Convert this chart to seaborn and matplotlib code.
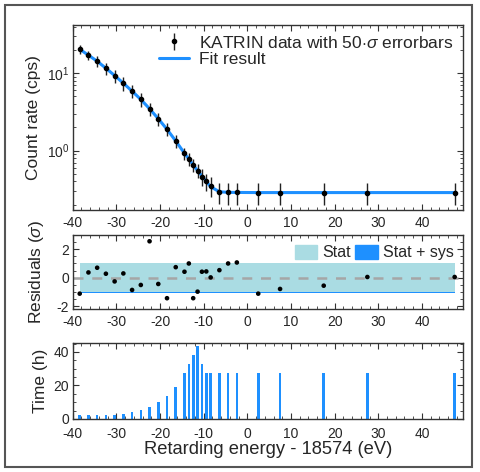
import numpy as np
import pandas as pd
import matplotlib
matplotlib.use('Agg')
import matplotlib.pyplot as plt
import seaborn as sns
from matplotlib.patches import Patch, Rectangle
from matplotlib.ticker import MultipleLocator

# Retarding energy - 18574 (eV)
energy = [-38.4, -36.4, -34.4, -32.4, -30.4, -28.4, -26.4, -24.4, -22.4, -20.4,
          -18.4, -16.4, -14.4, -13.4, -12.4, -11.4, -10.4, -9.4, -8.4, -6.4,
          -4.4, -2.4, 2.5, 7.5, 17.5, 27.5, 47.5]
# count rate (cps)
rate = [20.4, 17.1, 14.3, 11.6, 9.33, 7.43, 5.86, 4.58, 3.47, 2.58,
        1.88, 1.33, 0.92, 0.78, 0.65, 0.55, 0.46, 0.40, 0.35, 0.294,
        0.288, 0.288, 0.286, 0.286, 0.286, 0.286, 0.286]
# 50 sigma error bars (cps)
rate_err = [2.6, 2.4, 2.2, 2.0, 1.8, 1.5, 1.15, 0.90, 0.66, 0.50,
            0.36, 0.25, 0.17, 0.15, 0.13, 0.11, 0.11, 0.10, 0.10, 0.09,
            0.09, 0.09, 0.09, 0.09, 0.09, 0.09, 0.09]
# fit curve
fit_rate = [20.4, 17.1, 14.3, 11.6, 9.33, 7.43, 5.86, 4.58, 3.47, 2.58,
            1.88, 1.33, 0.92, 0.78, 0.65, 0.55, 0.47, 0.40, 0.34, 0.293,
            0.288, 0.287, 0.286, 0.286, 0.286, 0.286, 0.286]
# residuals (sigma)
resid = [-1.12, 0.37, 0.70, 0.28, -0.26, 0.30, -0.86, -0.51, 2.56, -0.44,
         -1.44, 0.74, 0.42, 1.0, -1.44, -0.98, 0.42, 0.44, 0.02, 0.53,
         1.0, 1.07, -1.12, -0.79, -0.56, 0.05, 0.05]
# measurement time (h)
time_h = [2.6, 2.6, 2.6, 2.6, 2.6, 3.0, 4.1, 5.3, 7.1, 9.9,
          13.6, 19.1, 27.2, 32.7, 38.0, 43.3, 32.7, 27.2, 27.2, 27.2,
          27.2, 27.2, 27.2, 27.2, 27.2, 27.2, 27.2]

stat_band = 1.0
sys_band = 1.06

df = pd.DataFrame({'energy': energy, 'rate': rate, 'err': rate_err,
                   'fit': fit_rate, 'resid': resid, 'time': time_h})

sns.set_style('ticks')
plt.rcParams['font.family'] = ['Liberation Sans', 'DejaVu Sans']
plt.rcParams['mathtext.fontset'] = 'custom'
plt.rcParams['mathtext.rm'] = 'Liberation Sans'
plt.rcParams['mathtext.it'] = 'Liberation Sans:italic'
plt.rcParams['axes.unicode_minus'] = False
plt.rcParams['xtick.direction'] = 'in'
plt.rcParams['ytick.direction'] = 'in'

blue = '#1e90ff'
light = '#aadce3'

fig = plt.figure(figsize=(4.8, 4.72), dpi=100)
left, width = 0.1515, 0.813
ax1 = fig.add_axes([left, 0.555, width, 0.392])
ax2 = fig.add_axes([left, 0.3453, width, 0.1568])
ax3 = fig.add_axes([left, 0.1123, width, 0.1617])

# --- top: count rate ---
sns.lineplot(data=df, x='energy', y='fit', ax=ax1, color=blue, lw=2.2,
             label='Fit result', zorder=2)
ax1.errorbar(df['energy'], df['rate'], yerr=df['err'], fmt='o', color='black',
             ms=3.0, elinewidth=1.0, ecolor='#222222', capsize=0, zorder=3,
             label=r'KATRIN data with 50$\cdot\sigma$ errorbars')
ax1.set_yscale('log')
ax1.set_ylim(0.17, 42)
ax1.set_ylabel('Count rate (cps)', fontsize=12.5, labelpad=4)
h, l = ax1.get_legend_handles_labels()
ax1.legend(h[::-1], l[::-1], loc='upper right', frameon=False, fontsize=12.5,
           handlelength=1.7, borderaxespad=0.15, labelspacing=0.05,
           handletextpad=0.6)

# --- middle: residuals ---
ax2.fill_between([energy[0], energy[-1]], -sys_band, sys_band, color=blue,
                 lw=0, zorder=1)
ax2.fill_between([energy[0], energy[-1]], -stat_band, stat_band, color=light,
                 lw=0, zorder=1.5)
ax2.axhline(0, color='#a6a6a6', lw=1.8, ls=(0, (4, 3.5)), zorder=2)
sns.scatterplot(data=df, x='energy', y='resid', ax=ax2, color='black', s=11,
                edgecolor='none', zorder=3)
ax2.set_ylim(-2.2, 3)
ax2.set_ylabel(r'Residuals ($\sigma$)', fontsize=12.5, labelpad=8)
ax2.yaxis.set_major_locator(MultipleLocator(2))
ax2.yaxis.set_minor_locator(MultipleLocator(0.5))
ax2.legend(handles=[Patch(color=light, label='Stat'),
                    Patch(color=blue, label='Stat + sys')],
           loc='upper right', ncol=2, frameon=False, fontsize=11.5,
           handlelength=1.4, handleheight=1.0, columnspacing=0.3,
           handletextpad=0.3, borderaxespad=0.2)

# --- bottom: measurement time ---
ax3.bar(df['energy'], df['time'], width=0.6, color=blue, lw=0)
ax3.set_ylim(0, 45.5)
ax3.set_ylabel('Time (h)', fontsize=12.5, labelpad=4)
ax3.yaxis.set_major_locator(MultipleLocator(20))
ax3.yaxis.set_minor_locator(MultipleLocator(5))
ax3.set_xlabel('Retarding energy - 18574 (eV)', fontsize=13.2, labelpad=0)

for ax in (ax1, ax2, ax3):
    ax.set_xlim(-40, 49.4)
    ax.xaxis.set_major_locator(MultipleLocator(10))
    ax.xaxis.set_minor_locator(MultipleLocator(2))
    ax.tick_params(which='both', top=True, right=True, labelsize=10,
                   pad=2.5, color='#333333')
    ax.tick_params(axis='x', which='both', pad=4)
    ax.tick_params(which='major', length=4, width=0.8)
    ax.tick_params(which='minor', length=2, width=0.6)
    for s in ax.spines.values():
        s.set_linewidth(1.0)
        s.set_color('#333333')
    if ax is not ax3:
        ax.set_xlabel('')
# keep the bottom "0" clear of the "-40" label
ax3.tick_params(axis='x', which='both', pad=5.5)

fig.align_ylabels([ax1, ax2, ax3])
fig.patches.append(Rectangle((5 / 480, 5 / 472), 467 / 480, 462 / 472,
                             transform=fig.transFigure, fill=False,
                             edgecolor='#555555', lw=1.5))

fig.savefig('out.png', dpi=100)
